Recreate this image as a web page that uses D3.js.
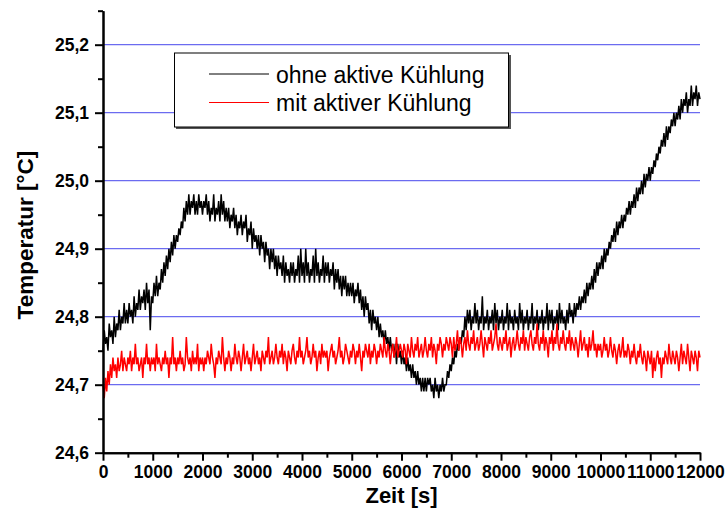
<!DOCTYPE html>
<html>
<head>
<meta charset="utf-8">
<script src="https://cdn.jsdelivr.net/npm/d3@7"></script>
<style>
  html, body { margin: 0; padding: 0; background: #fff; }
  svg { display: block; font-family: "Liberation Sans", Arial, Helvetica, sans-serif; }
</style>
</head>
<body>
<svg id="chart" width="725" height="524"></svg>
<script>
// Sampling interval of the logged temperatures, in seconds
const sampleStep = 25;

// Temperature without active cooling [°C], one reading every 25 s from 0 s to 12000 s
const ohneKuehlung = [
  24.75, 24.78, 24.76, 24.77, 24.75, 24.79, 24.77, 24.78, 24.76, 24.80, 24.77, 24.79, 24.78, 24.81, 24.78, 24.80, 24.79, 24.82, 24.79, 24.81,
  24.79, 24.82, 24.80, 24.81, 24.79, 24.83, 24.80, 24.82, 24.81, 24.84, 24.81, 24.83, 24.82, 24.84, 24.81, 24.85, 24.82, 24.84, 24.78, 24.83,
  24.82, 24.85, 24.83, 24.86, 24.83, 24.85, 24.84, 24.87, 24.85, 24.88, 24.86, 24.89, 24.87, 24.90, 24.88, 24.91, 24.89, 24.92, 24.90, 24.92,
  24.91, 24.93, 24.92, 24.94, 24.93, 24.96, 24.94, 24.97, 24.95, 24.98, 24.95, 24.97, 24.96, 24.98, 24.95, 24.97, 24.95, 24.98, 24.96, 24.97,
  24.95, 24.97, 24.96, 24.98, 24.95, 24.97, 24.94, 24.96, 24.95, 24.98, 24.94, 24.96, 24.95, 24.97, 24.94, 24.98, 24.95, 24.97, 24.94, 24.96,
  24.94, 24.96, 24.93, 24.95, 24.94, 24.96, 24.93, 24.95, 24.92, 24.94, 24.93, 24.95, 24.92, 24.94, 24.93, 24.95, 24.91, 24.93, 24.92, 24.94,
  24.90, 24.93, 24.91, 24.92, 24.90, 24.92, 24.89, 24.92, 24.90, 24.91, 24.88, 24.91, 24.89, 24.90, 24.87, 24.90, 24.88, 24.90, 24.87, 24.89,
  24.86, 24.89, 24.87, 24.88, 24.86, 24.89, 24.85, 24.88, 24.86, 24.87, 24.85, 24.88, 24.86, 24.88, 24.85, 24.87, 24.86, 24.89, 24.85, 24.90,
  24.86, 24.88, 24.85, 24.90, 24.86, 24.88, 24.85, 24.87, 24.86, 24.89, 24.85, 24.90, 24.86, 24.88, 24.85, 24.87, 24.86, 24.89, 24.85, 24.88,
  24.86, 24.88, 24.85, 24.87, 24.86, 24.88, 24.84, 24.87, 24.85, 24.87, 24.84, 24.86, 24.83, 24.86, 24.84, 24.86, 24.83, 24.85, 24.83, 24.85,
  24.83, 24.85, 24.82, 24.84, 24.83, 24.85, 24.82, 24.84, 24.81, 24.83, 24.80, 24.83, 24.81, 24.82, 24.79, 24.81, 24.78, 24.81, 24.79, 24.80,
  24.78, 24.80, 24.77, 24.79, 24.77, 24.78, 24.76, 24.78, 24.76, 24.77, 24.75, 24.77, 24.75, 24.76, 24.74, 24.76, 24.73, 24.76, 24.74, 24.75,
  24.73, 24.75, 24.73, 24.74, 24.72, 24.74, 24.72, 24.73, 24.71, 24.73, 24.71, 24.72, 24.70, 24.72, 24.70, 24.71, 24.69, 24.71, 24.69, 24.71,
  24.69, 24.71, 24.70, 24.71, 24.69, 24.70, 24.68, 24.71, 24.69, 24.70, 24.68, 24.70, 24.69, 24.71, 24.69, 24.70, 24.70, 24.72, 24.71, 24.73,
  24.72, 24.74, 24.73, 24.75, 24.74, 24.76, 24.75, 24.77, 24.76, 24.78, 24.77, 24.80, 24.78, 24.81, 24.79, 24.81, 24.78, 24.80, 24.79, 24.82,
  24.79, 24.81, 24.78, 24.80, 24.79, 24.83, 24.78, 24.80, 24.79, 24.81, 24.78, 24.80, 24.79, 24.81, 24.78, 24.82, 24.79, 24.81, 24.78, 24.80,
  24.79, 24.81, 24.78, 24.80, 24.79, 24.82, 24.78, 24.81, 24.79, 24.80, 24.78, 24.81, 24.79, 24.80, 24.78, 24.82, 24.79, 24.81, 24.78, 24.80,
  24.79, 24.81, 24.78, 24.80, 24.79, 24.82, 24.78, 24.80, 24.79, 24.81, 24.78, 24.80, 24.79, 24.81, 24.78, 24.80, 24.79, 24.82, 24.78, 24.81,
  24.79, 24.81, 24.78, 24.80, 24.79, 24.81, 24.78, 24.82, 24.79, 24.81, 24.79, 24.80, 24.78, 24.81, 24.79, 24.82, 24.80, 24.81, 24.79, 24.82,
  24.80, 24.82, 24.81, 24.83, 24.81, 24.83, 24.82, 24.84, 24.82, 24.85, 24.83, 24.85, 24.84, 24.86, 24.84, 24.87, 24.85, 24.88, 24.86, 24.88,
  24.87, 24.89, 24.87, 24.90, 24.88, 24.90, 24.89, 24.91, 24.90, 24.92, 24.91, 24.93, 24.91, 24.94, 24.92, 24.94, 24.93, 24.95, 24.93, 24.95,
  24.94, 24.96, 24.95, 24.97, 24.95, 24.97, 24.96, 24.98, 24.96, 24.99, 24.97, 24.99, 24.98, 25.00, 24.98, 25.01, 24.99, 25.01, 25.00, 25.02,
  25.00, 25.02, 25.01, 25.03, 25.02, 25.04, 25.03, 25.05, 25.04, 25.06, 25.05, 25.07, 25.05, 25.08, 25.06, 25.08, 25.07, 25.09, 25.08, 25.10,
  25.08, 25.10, 25.09, 25.11, 25.09, 25.12, 25.10, 25.12, 25.11, 25.13, 25.10, 25.12, 25.11, 25.14, 25.11, 25.13, 25.12, 25.14, 25.11, 25.13,
  25.12
];

// Temperature with active cooling [°C], same time base
const mitKuehlung = [
  24.70, 24.68, 24.71, 24.69, 24.72, 24.70, 24.73, 24.71, 24.74, 24.72, 24.73, 24.71, 24.74, 24.72, 24.73, 24.75, 24.72, 24.74, 24.73, 24.72,
  24.74, 24.73, 24.75, 24.72, 24.74, 24.73, 24.76, 24.73, 24.74, 24.72, 24.73, 24.74, 24.71, 24.74, 24.73, 24.76, 24.73, 24.74, 24.72, 24.74,
  24.73, 24.74, 24.72, 24.76, 24.73, 24.74, 24.73, 24.72, 24.74, 24.73, 24.75, 24.73, 24.74, 24.71, 24.74, 24.73, 24.77, 24.73, 24.74, 24.72,
  24.74, 24.73, 24.75, 24.73, 24.74, 24.72, 24.73, 24.77, 24.74, 24.73, 24.74, 24.72, 24.75, 24.73, 24.74, 24.73, 24.76, 24.72, 24.74, 24.73,
  24.74, 24.72, 24.74, 24.73, 24.75, 24.74, 24.73, 24.76, 24.74, 24.73, 24.71, 24.74, 24.73, 24.75, 24.74, 24.73, 24.77, 24.74, 24.72, 24.74,
  24.73, 24.75, 24.74, 24.72, 24.74, 24.73, 24.76, 24.74, 24.73, 24.75, 24.74, 24.72, 24.74, 24.76, 24.73, 24.74, 24.75, 24.73, 24.74, 24.72,
  24.74, 24.76, 24.73, 24.74, 24.75, 24.73, 24.74, 24.72, 24.75, 24.74, 24.73, 24.75, 24.74, 24.77, 24.73, 24.74, 24.75, 24.73, 24.74, 24.76,
  24.74, 24.73, 24.75, 24.74, 24.76, 24.73, 24.75, 24.74, 24.72, 24.75, 24.74, 24.73, 24.75, 24.76, 24.74, 24.73, 24.75, 24.74, 24.77, 24.74,
  24.75, 24.73, 24.74, 24.75, 24.77, 24.74, 24.75, 24.73, 24.74, 24.76, 24.74, 24.75, 24.72, 24.74, 24.75, 24.73, 24.76, 24.74, 24.75, 24.74,
  24.75, 24.72, 24.74, 24.75, 24.76, 24.74, 24.75, 24.73, 24.74, 24.75, 24.77, 24.74, 24.75, 24.73, 24.74, 24.76, 24.75, 24.74, 24.73, 24.75,
  24.74, 24.76, 24.75, 24.73, 24.75, 24.74, 24.76, 24.74, 24.72, 24.75, 24.74, 24.76, 24.75, 24.74, 24.76, 24.73, 24.75, 24.74, 24.76, 24.75,
  24.73, 24.75, 24.74, 24.76, 24.75, 24.74, 24.77, 24.75, 24.74, 24.76, 24.75, 24.73, 24.75, 24.76, 24.74, 24.75, 24.77, 24.74, 24.75, 24.76,
  24.75, 24.74, 24.76, 24.75, 24.73, 24.76, 24.75, 24.74, 24.77, 24.75, 24.74, 24.76, 24.75, 24.77, 24.74, 24.75, 24.76, 24.74, 24.75, 24.77,
  24.75, 24.74, 24.76, 24.75, 24.77, 24.74, 24.76, 24.75, 24.73, 24.76, 24.75, 24.77, 24.76, 24.74, 24.76, 24.75, 24.77, 24.76, 24.75, 24.77,
  24.76, 24.74, 24.77, 24.75, 24.76, 24.78, 24.75, 24.77, 24.76, 24.74, 24.76, 24.77, 24.75, 24.78, 24.76, 24.75, 24.77, 24.76, 24.78, 24.75,
  24.76, 24.77, 24.75, 24.76, 24.78, 24.76, 24.74, 24.77, 24.76, 24.75, 24.77, 24.76, 24.78, 24.75, 24.76, 24.77, 24.79, 24.76, 24.75, 24.77,
  24.76, 24.75, 24.77, 24.76, 24.78, 24.75, 24.76, 24.77, 24.74, 24.76, 24.77, 24.75, 24.76, 24.78, 24.76, 24.75, 24.77, 24.76, 24.78, 24.75,
  24.77, 24.76, 24.75, 24.77, 24.78, 24.76, 24.75, 24.77, 24.76, 24.79, 24.76, 24.75, 24.77, 24.76, 24.78, 24.75, 24.77, 24.76, 24.74, 24.77,
  24.76, 24.78, 24.75, 24.77, 24.76, 24.79, 24.76, 24.75, 24.77, 24.76, 24.78, 24.76, 24.75, 24.77, 24.76, 24.78, 24.75, 24.77, 24.76, 24.75,
  24.77, 24.76, 24.74, 24.76, 24.78, 24.75, 24.76, 24.77, 24.75, 24.76, 24.74, 24.77, 24.75, 24.76, 24.78, 24.75, 24.76, 24.74, 24.76, 24.75,
  24.76, 24.74, 24.75, 24.77, 24.75, 24.76, 24.74, 24.75, 24.77, 24.75, 24.74, 24.76, 24.75, 24.73, 24.75, 24.76, 24.74, 24.75, 24.77, 24.74,
  24.75, 24.74, 24.76, 24.75, 24.73, 24.75, 24.74, 24.76, 24.74, 24.73, 24.75, 24.74, 24.76, 24.74, 24.73, 24.75, 24.74, 24.72, 24.75, 24.74,
  24.73, 24.75, 24.71, 24.74, 24.72, 24.74, 24.75, 24.73, 24.74, 24.71, 24.74, 24.73, 24.75, 24.74, 24.73, 24.76, 24.74, 24.73, 24.75, 24.74,
  24.73, 24.75, 24.74, 24.72, 24.74, 24.76, 24.73, 24.75, 24.74, 24.73, 24.76, 24.74, 24.72, 24.75, 24.74, 24.73, 24.75, 24.74, 24.72, 24.75,
  24.74
];

// Axis ticks
const xMajorTicks = [0, 1000, 2000, 3000, 4000, 5000, 6000, 7000, 8000, 9000, 10000, 11000, 12000];
const xMinorTicks = [500, 1500, 2500, 3500, 4500, 5500, 6500, 7500, 8500, 9500, 10500, 11500];
const yMajorTicks = [24.6, 24.7, 24.8, 24.9, 25.0, 25.1, 25.2];
const yMinorTicks = [24.65, 24.75, 24.85, 24.95, 25.05, 25.15, 25.25];
const gridValues = [24.7, 24.8, 24.9, 25.0, 25.1, 25.2];

const seriesNames = ["ohne aktive Kühlung", "mit aktiver Kühlung"];
const seriesColors = ["#000000", "#ff0000"];

const svg = d3.select("#chart");

const x = d3.scaleLinear().domain([0, 12000]).range([103, 700]);
const y = d3.scaleLinear().domain([24.6, 25.25]).range([452.7, 10.7]);

const fmtY = v => d3.format(".1f")(v).replace(".", ",");

// Horizontal grid lines
svg.append("g")
  .selectAll("line")
  .data(gridValues)
  .join("line")
  .attr("x1", x(0)).attr("x2", x(12000))
  .attr("y1", d => y(d)).attr("y2", d => y(d))
  .attr("stroke", "#6b6bf0")
  .attr("stroke-width", 1.3);

// Legend box (drawn over the grid, under the data)
const lg = svg.append("g");
lg.append("rect")
  .attr("x", 176).attr("y", 55)
  .attr("width", 335).attr("height", 74)
  .attr("fill", "#555");
lg.append("rect")
  .attr("x", 174.5).attr("y", 53)
  .attr("width", 334).attr("height", 74)
  .attr("fill", "#fff")
  .attr("stroke", "#000")
  .attr("stroke-width", 1);
const lgRows = [74, 102.5];
seriesNames.forEach((name, i) => {
  lg.append("line")
    .attr("x1", 209).attr("x2", 269)
    .attr("y1", lgRows[i]).attr("y2", lgRows[i])
    .attr("stroke", seriesColors[i])
    .attr("stroke-width", 1);
  lg.append("text")
    .attr("x", 276).attr("y", lgRows[i] + 8.5)
    .attr("font-size", 23)
    .attr("fill", "#000")
    .text(name);
});

// Data lines
const toPoints = arr => arr.map((v, i) => [i * sampleStep, v]);
const line = d3.line().x(d => x(d[0])).y(d => y(d[1]));

[ohneKuehlung, mitKuehlung].forEach((arr, i) => {
  svg.append("path")
    .datum(toPoints(arr))
    .attr("d", line)
    .attr("fill", "none")
    .attr("stroke", seriesColors[i])
    .attr("stroke-width", 1.5)
    .attr("stroke-linejoin", "miter");
});

// Axes: major ticks with labels, minor ticks without
function styleAxis(g) {
  g.select(".domain").attr("stroke", "#000").attr("stroke-width", 2);
  g.selectAll(".tick line").attr("stroke", "#000").attr("stroke-width", 2);
  g.selectAll(".tick text")
    .attr("fill", "#000")
    .attr("font-size", 17.5)
    .attr("font-weight", "bold")
    .attr("font-family", "'Liberation Sans', Arial, sans-serif");
}

const xAxisY = y(24.6);
const yAxisX = x(0);

svg.append("g")
  .attr("transform", `translate(0,${xAxisY})`)
  .call(d3.axisBottom(x).tickValues(xMinorTicks).tickSize(5).tickFormat("").tickSizeOuter(0))
  .call(styleAxis);
svg.append("g")
  .attr("transform", `translate(0,${xAxisY})`)
  .call(d3.axisBottom(x).tickValues(xMajorTicks).tickSize(8).tickPadding(5).tickFormat(d3.format("d")).tickSizeOuter(0))
  .call(styleAxis);

svg.append("g")
  .attr("transform", `translate(${yAxisX},0)`)
  .call(d3.axisLeft(y).tickValues(yMinorTicks).tickSize(5).tickFormat("").tickSizeOuter(0))
  .call(styleAxis);
svg.append("g")
  .attr("transform", `translate(${yAxisX},0)`)
  .call(d3.axisLeft(y).tickValues(yMajorTicks).tickSize(8).tickPadding(6).tickFormat(fmtY).tickSizeOuter(0))
  .call(styleAxis);

// Axis titles
svg.append("text")
  .attr("x", (x(0) + x(12000)) / 2)
  .attr("y", 503)
  .attr("text-anchor", "middle")
  .attr("font-size", 22)
  .attr("font-weight", "bold")
  .text("Zeit [s]");

svg.append("text")
  .attr("transform", `translate(33,${y(24.92)}) rotate(-90)`)
  .attr("text-anchor", "middle")
  .attr("font-size", 22.5)
  .attr("font-weight", "bold")
  .text("Temperatur [°C]");
</script>
</body>
</html>
